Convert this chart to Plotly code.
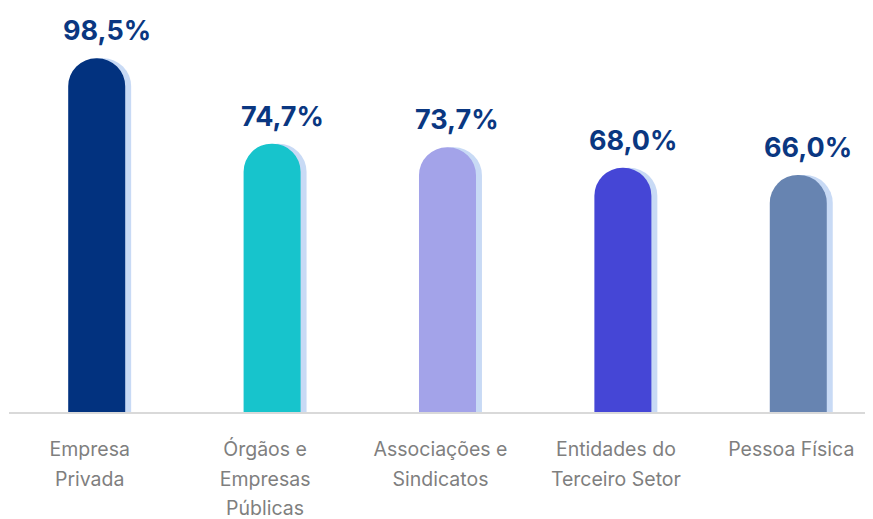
import plotly.graph_objects as go

categories = ["Empresa<br>Privada", "Órgãos e<br>Empresas<br>Públicas",
              "Associações e<br>Sindicatos", "Entidades do<br>Terceiro Setor",
              "Pessoa Física"]
values = [98.5, 74.7, 73.7, 68.0, 66.0]
value_labels = ["98,5%", "74,7%", "73,7%", "68,0%", "66,0%"]
bar_colors = ["#02327f", "#17c4cc", "#a3a3e9", "#4546d6", "#6784b1"]
shadow_color = "#c8daf5"

x = list(range(len(categories)))
bar_w = 0.325
shadow_dx = 0.034

# tick text: small glyphs inside a larger line box for wider line spacing
tick_text = ["<br>".join(f"<span style='font-size:19.5px'>{p}</span>" for p in c.split("<br>"))
             for c in categories]

fig = go.Figure()

fig.add_trace(go.Bar(
    x=x, y=values,
    width=bar_w, offset=-bar_w / 2 + shadow_dx,
    marker=dict(color=shadow_color, cornerradius="50%", line=dict(width=0)),
    hoverinfo="skip",
))

fig.add_trace(go.Bar(
    x=x, y=values,
    width=bar_w, offset=-bar_w / 2,
    marker=dict(color=bar_colors, cornerradius="50%", line=dict(width=0)),
))

for xi, v, lab in zip(x, values, value_labels):
    fig.add_annotation(
        x=xi, y=v, text=lab, showarrow=False,
        yanchor="bottom", yshift=9, xshift=10,
        font=dict(family="Inter", size=27, color="#0a3781", weight="bold"),
    )

# page body adds an 8px offset, so the figure is 8px smaller than the window
fig.update_layout(
    width=865, height=511,
    barmode="overlay",
    showlegend=False,
    plot_bgcolor="white",
    paper_bgcolor="white",
    margin=dict(l=1, r=0, t=0, b=107),
    xaxis=dict(
        range=[-0.5, 4.426],
        tickmode="array", tickvals=x, ticktext=tick_text,
        tickfont=dict(family="Inter", size=23, color="#7f7f7f"),
        showline=True, linecolor="#d9d9d9", linewidth=2,
        showgrid=False, ticks="", ticklabelstandoff=14, ticklabelshift=-7,
    ),
    yaxis=dict(range=[0, 112.5], visible=False, showgrid=False),
)

fig.write_html("out.html")
